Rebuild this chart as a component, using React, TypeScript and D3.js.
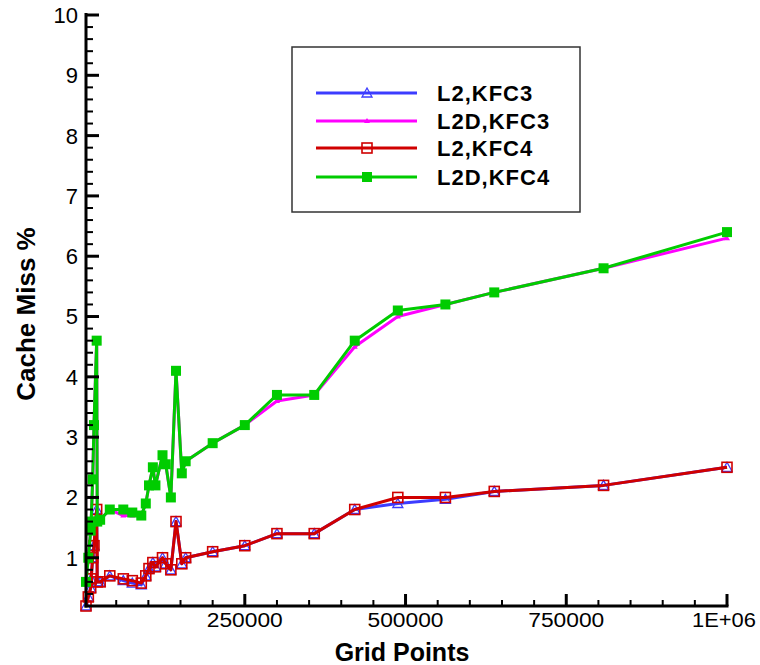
import React from "react";
import * as d3 from "d3";

// Grid points (shared x values)
const gridPoints = [3000, 6600, 10300, 11000, 13400, 15400, 19600, 20500, 25000, 40000, 61000, 75000, 89000, 96000, 101000, 107000, 111000, 122000, 127000, 135000, 143000, 152000, 158000, 200000, 250000, 300000, 358000, 421000, 488000, 562000, 638000, 808000, 1000000];

const l2Kfc3 = [0.2, 0.35, 0.5, 0.65, 1.0, 1.2, 1.8, 0.6, 0.6, 0.7, 0.62, 0.58, 0.55, 0.7, 0.82, 0.92, 0.85, 1.0, 0.9, 0.8, 1.6, 0.9, 1.0, 1.1, 1.2, 1.4, 1.4, 1.8, 1.9, 1.97, 2.1, 2.2, 2.5];
const l2dKfc3 = [0.6, 1.0, 1.45, 1.6, 2.3, 3.2, 4.6, 1.6, 1.63, 1.8, 1.7, 1.7, 1.7, 1.9, 2.2, 2.5, 2.2, 2.7, 2.55, 2.0, 4.1, 2.4, 2.6, 2.9, 3.2, 3.6, 3.7, 4.5, 5.0, 5.2, 5.4, 5.8, 6.3];
const l2Kfc4 = [0.2, 0.35, 0.5, 0.65, 1.0, 1.2, 1.8, 0.6, 0.6, 0.7, 0.65, 0.62, 0.58, 0.7, 0.82, 0.92, 0.85, 1.0, 0.9, 0.8, 1.6, 0.9, 1.0, 1.1, 1.2, 1.4, 1.4, 1.8, 2.0, 2.0, 2.1, 2.2, 2.5];
const l2dKfc4 = [0.6, 1.0, 1.45, 1.6, 2.3, 3.2, 4.6, 1.6, 1.63, 1.8, 1.8, 1.75, 1.7, 1.9, 2.2, 2.5, 2.2, 2.7, 2.55, 2.0, 4.1, 2.4, 2.6, 2.9, 3.2, 3.7, 3.7, 4.6, 5.1, 5.2, 5.4, 5.8, 6.4];

const seriesNames = ["L2,KFC3", "L2D,KFC3", "L2,KFC4", "L2D,KFC4"];
const seriesColors = ["#3c3cff", "#ff00ff", "#d00000", "#00cc00"];
const seriesMarkers = ["openTri", "filledTri", "openSq", "filledSq"];
const seriesValues = [l2Kfc3, l2dKfc3, l2Kfc4, l2dKfc4];

const xMajorTicks = [250000, 500000, 750000, 1000000];
const xTickLabels = ["250000", "500000", "750000", "1E+06"];
const yMajorTicks = [1, 2, 3, 4, 5, 6, 7, 8, 9, 10];

const FONT = "'Liberation Sans', Arial, Helvetica, sans-serif";

function Marker({ type, x, y, color }: { type: string; x: number; y: number; color: string }) {
  if (type === "filledSq") {
    return <rect x={x - 5} y={y - 5} width={10} height={10} fill={color} />;
  }
  if (type === "openSq") {
    return <rect x={x - 5} y={y - 5} width={10} height={10} fill="none" stroke={color} strokeWidth={1.6} />;
  }
  if (type === "openTri") {
    return <path d={`M${x},${y - 5}L${x + 5},${y + 4}L${x - 5},${y + 4}Z`} fill="none" stroke={color} strokeWidth={1.3} />;
  }
  return <path d={`M${x},${y - 3}L${x + 3},${y + 2}L${x - 3},${y + 2}Z`} fill={color} />;
}

export default function App() {
  const x = d3.scaleLinear().domain([3000, 1000000]).range([86, 727]);
  const y = d3.scaleLinear().domain([0.2, 10]).range([606, 15]);
  const line = d3
    .line<number>()
    .x((_, i) => x(gridPoints[i]))
    .y((d) => y(d));

  const xMinor = d3.range(50000, 1000001, 50000).filter((v) => v % 250000 !== 0);
  const yMinor = d3.range(0.4, 10, 0.2).filter((v) => Math.abs(v - Math.round(v)) > 0.01);

  const legendRows = [93, 121, 148, 177];

  return (
    <svg width={760} height={665} style={{ position: "absolute", left: 0, top: 0, background: "#fff" }}>
      <rect x={0} y={0} width={760} height={665} fill="#fff" />
      {/* series */}
      {seriesValues.map((vals, si) => (
        <g key={si}>
          <path d={line(vals) || ""} fill="none" stroke={seriesColors[si]} strokeWidth={3} strokeLinejoin="round" />
          {vals.map((v, i) => (
            <Marker key={i} type={seriesMarkers[si]} x={x(gridPoints[i])} y={y(v)} color={seriesColors[si]} />
          ))}
        </g>
      ))}
      {/* axes */}
      <line x1={86} x2={86} y1={13} y2={607.5} stroke="#000" strokeWidth={3} />
      <line x1={84.5} x2={728.5} y1={606} y2={606} stroke="#000" strokeWidth={3} />
      {yMajorTicks.map((t) => (
        <g key={t}>
          <line x1={86} x2={99} y1={y(t)} y2={y(t)} stroke="#000" strokeWidth={3} />
          <text x={78} y={y(t)} dy="0.36em" textAnchor="end" fontFamily={FONT} fontSize={22} fill="#000">
            {t}
          </text>
        </g>
      ))}
      {yMinor.map((t, i) => (
        <line key={i} x1={86} x2={93} y1={y(t)} y2={y(t)} stroke="#000" strokeWidth={2} />
      ))}
      {xMajorTicks.map((t, i) => (
        <g key={t}>
          <line x1={x(t)} x2={x(t)} y1={606} y2={594} stroke="#000" strokeWidth={3} />
          <text
            x={x(t) - (i === 3 ? 3 : 0)}
            y={627}
            textAnchor="middle"
            fontFamily={FONT}
            fontSize={20}
            fill="#000"
            textLength={i === 3 ? 64 : 76}
            lengthAdjust="spacingAndGlyphs"
          >
            {xTickLabels[i]}
          </text>
        </g>
      ))}
      {xMinor.map((t, i) => (
        <line key={i} x1={x(t)} x2={x(t)} y1={606} y2={600} stroke="#000" strokeWidth={2} />
      ))}
      {/* axis titles */}
      <text x={402} y={661} textAnchor="middle" fontFamily={FONT} fontWeight="bold" fontSize={25} fill="#000">
        Grid Points
      </text>
      <text
        transform="translate(35,314) rotate(-90)"
        textAnchor="middle"
        fontFamily={FONT}
        fontWeight="bold"
        fontSize={26}
        fill="#000"
      >
        Cache Miss %
      </text>
      {/* legend */}
      <rect x={292} y={47} width={288} height={165} fill="#fff" stroke="#333" strokeWidth={1.5} />
      {seriesNames.map((name, i) => (
        <g key={name}>
          <line x1={316} x2={417} y1={legendRows[i]} y2={legendRows[i]} stroke={seriesColors[i]} strokeWidth={3} />
          <Marker type={seriesMarkers[i]} x={367} y={legendRows[i]} color={seriesColors[i]} />
          <text
            x={437}
            y={legendRows[i]}
            dy="0.36em"
            fontFamily={FONT}
            fontWeight="bold"
            fontSize={22}
            letterSpacing={1}
            fill="#000"
          >
            {name}
          </text>
        </g>
      ))}
    </svg>
  );
}
